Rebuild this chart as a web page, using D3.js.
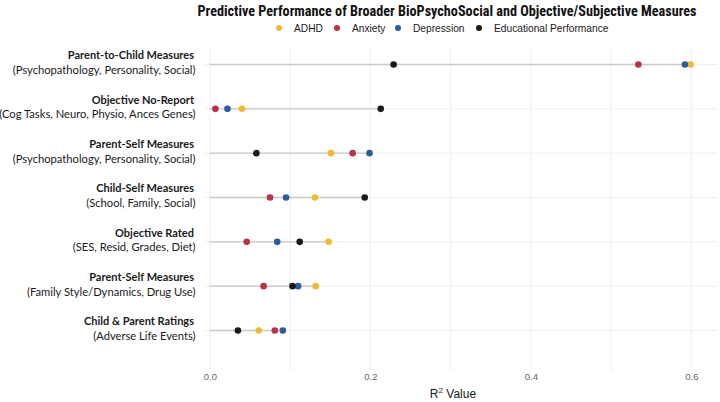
<!DOCTYPE html>
<html>
<head>
<meta charset="utf-8">
<script src="https://cdn.jsdelivr.net/npm/d3@7"></script>
<style>
  body { margin: 0; background: #fff; }
  svg { display: block; }
</style>
</head>
<body>
<div id="chart"></div>
<script>
// Data
const groups = [
  "Parent-to-Child Measures",
  "Objective No-Report",
  "Parent-Self Measures",
  "Child-Self Measures",
  "Objective Rated",
  "Parent-Self Measures ",
  "Child & Parent Ratings"
];
const groupTitles = [
  "Parent-to-Child Measures",
  "Objective No-Report",
  "Parent-Self Measures",
  "Child-Self Measures",
  "Objective Rated",
  "Parent-Self Measures",
  "Child & Parent Ratings"
];
const groupSubtitles = [
  "(Psychopathology, Personality, Social)",
  "(Cog Tasks, Neuro, Physio, Ances Genes)",
  "(Psychopathology, Personality, Social)",
  "(School, Family, Social)",
  "(SES, Resid, Grades, Diet)",
  "(Family Style/Dynamics, Drug Use)",
  "(Adverse Life Events)"
];
const outcomes = ["ADHD", "Anxiety", "Depression", "Educational Performance"];
const adhd       = [0.599, 0.040, 0.151, 0.131, 0.148, 0.132, 0.061];
const anxiety    = [0.534, 0.007, 0.178, 0.075, 0.046, 0.067, 0.081];
const depression = [0.592, 0.022, 0.199, 0.095, 0.084, 0.110, 0.091];
const education  = [0.229, 0.213, 0.058, 0.193, 0.112, 0.103, 0.035];
const xTicks = [0, 0.2, 0.4, 0.6];
const xMinor = [0.1, 0.3, 0.5];

const colors = ["#F2B932", "#B8324A", "#2B5C9E", "#1a1a1a"];
const seriesValues = [adhd, anxiety, depression, education];

const width = 720, height = 402;
const margin = { top: 48, right: 3, bottom: 32, left: 205 };

const svg = d3.select("#chart").append("svg")
  .attr("width", width)
  .attr("height", height);

const x = d3.scaleLinear()
  .domain([-0.006, 0.632])
  .range([margin.left, width - margin.right]);

const y = d3.scalePoint()
  .domain(groups)
  .range([64.5, 330.5]);

const panelBottom = height - margin.bottom + 1;

// grid
const grid = svg.append("g");
grid.selectAll(".vgrid")
  .data(xTicks.concat(xMinor))
  .join("line")
  .attr("x1", d => x(d)).attr("x2", d => x(d))
  .attr("y1", margin.top).attr("y2", panelBottom)
  .attr("stroke", "#ebebeb")
  .attr("stroke-width", 0.8);
grid.selectAll(".hgrid")
  .data(groups)
  .join("line")
  .attr("x1", margin.left).attr("x2", width - margin.right)
  .attr("y1", d => y(d)).attr("y2", d => y(d))
  .attr("stroke", "#ebebeb")
  .attr("stroke-width", 0.8);

// segments from 0 to the max value of each row
const rows = groups.map((g, i) => ({
  group: g,
  max: d3.max(seriesValues, s => s[i])
}));
svg.append("g").selectAll("line")
  .data(rows)
  .join("line")
  .attr("x1", x(0))
  .attr("x2", d => x(d.max))
  .attr("y1", d => y(d.group)).attr("y2", d => y(d.group))
  .attr("stroke", "#c8c8c8")
  .attr("stroke-width", 1.3);

// points
const points = [];
seriesValues.forEach((vals, s) => {
  vals.forEach((v, i) => points.push({ group: groups[i], value: v, series: s }));
});
svg.append("g").selectAll("circle")
  .data(points)
  .join("circle")
  .attr("cx", d => x(d.value))
  .attr("cy", d => y(d.group))
  .attr("r", 3.3)
  .attr("fill", d => colors[d.series]);

// y labels
const ylab = svg.append("g").attr("font-family", "Lato, 'Open Sans', sans-serif").attr("fill", "#1a1a1a");
groups.forEach((g, i) => {
  ylab.append("text")
    .attr("x", 194)
    .attr("y", y(g) - 9)
    .attr("dy", "0.35em")
    .attr("text-anchor", "end")
    .attr("font-size", 11)
    .attr("font-weight", "bold")
    .text(groupTitles[i]);
  ylab.append("text")
    .attr("x", 195.5)
    .attr("y", y(g) + 5.5)
    .attr("dy", "0.35em")
    .attr("text-anchor", "end")
    .attr("font-size", 11.2)
    .text(groupSubtitles[i]);
});

// x axis (text only)
const xAxis = svg.append("g")
  .attr("transform", `translate(0,${panelBottom})`)
  .call(d3.axisBottom(x).tickValues(xTicks).tickFormat(d3.format(".1f")).tickSize(0).tickPadding(2));
xAxis.select(".domain").remove();
xAxis.selectAll("text")
  .attr("fill", "#666")
  .attr("font-size", 9.5)
  .attr("font-family", "'Liberation Sans', Arial, sans-serif");

const xTitle = svg.append("text")
  .attr("x", (margin.left + width - margin.right) / 2 - 8)
  .attr("y", 398)
  .attr("text-anchor", "middle")
  .attr("font-family", "'Liberation Sans', Arial, sans-serif")
  .attr("font-size", 12)
  .attr("fill", "#1a1a1a");
xTitle.append("tspan").text("R");
xTitle.append("tspan").attr("font-size", 8).attr("dy", -5).text("2");
xTitle.append("tspan").attr("dy", 5).text(" Value");

// title
svg.append("text")
  .attr("x", 447)
  .attr("y", 16)
  .attr("text-anchor", "middle")
  .attr("font-family", "'Liberation Sans Narrow', 'Roboto Condensed', Roboto, sans-serif")
  .attr("font-weight", "bold")
  .attr("font-size", 14.2)
  .attr("fill", "#111")
  .text("Predictive Performance of Broader BioPsychoSocial and Objective/Subjective Measures");

// legend
const legendX = [279, 337, 398, 479];
const legend = svg.append("g")
  .attr("font-family", "'Liberation Sans Narrow', 'Liberation Sans', sans-serif")
  .attr("font-size", 10.2)
  .attr("fill", "#1a1a1a");
outcomes.forEach((o, i) => {
  legend.append("circle")
    .attr("cx", legendX[i]).attr("cy", 28).attr("r", 3)
    .attr("fill", colors[i]);
  legend.append("text")
    .attr("x", legendX[i] + 15).attr("y", 28).attr("dy", "0.35em")
    .text(o);
});
</script>
</body>
</html>
